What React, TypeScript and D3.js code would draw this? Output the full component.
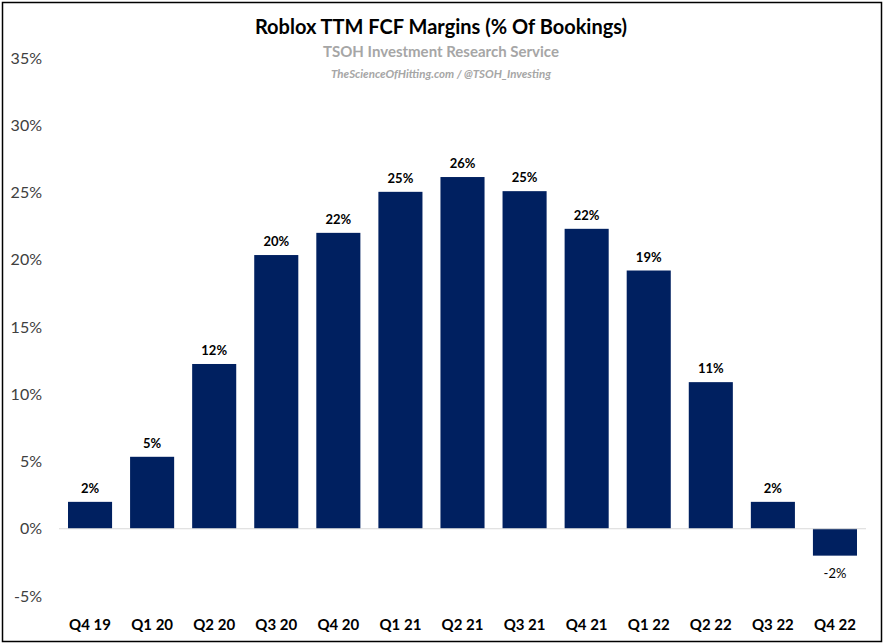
import React from "react";
import * as d3 from "d3";

const categories = ["Q4 19","Q1 20","Q2 20","Q3 20","Q4 20","Q1 21","Q2 21","Q3 21","Q4 21","Q1 22","Q2 22","Q3 22","Q4 22"];
const values = [2.0, 5.35, 12.25, 20.35, 22.0, 25.05, 26.15, 25.1, 22.3, 19.2, 10.9, 2.0, -2.0];
const labels = ["2%","5%","12%","20%","22%","25%","26%","25%","22%","19%","11%","2%","-2%"];
const yTicks = [-5, 0, 5, 10, 15, 20, 25, 30, 35];
const title = "Roblox TTM FCF Margins (% Of Bookings)";
const subtitle = "TSOH Investment Research Service";
const credit = "TheScienceOfHitting.com / @TSOH_Investing";

export default function App() {
  const W = 884, H = 644;
  const font = "Lato, 'Open Sans', sans-serif";
  const x = d3.scaleBand<string>().domain(categories).range([59, 866]).paddingInner(0.29).paddingOuter(0.145);
  const y = d3.scaleLinear().domain([-5, 35]).range([596, 58]);
  const navy = "#002060";
  return (
    <svg width={W} height={H} style={{ position: "absolute", left: 0, top: 0 }}>
      <rect x={0} y={0} width={W} height={H} fill="#fff" />
      <rect x={2.5} y={2.5} width={W - 5} height={H - 5} fill="none" stroke="#000" strokeWidth={1.5} />
      <text x={441} y={34} textAnchor="middle" fontFamily={font} fontWeight={700} fontSize={20} fill="#000">{title}</text>
      <text x={441} y={57} textAnchor="middle" fontFamily={font} fontWeight={700} fontSize={15} fill="#a6a6a6">{subtitle}</text>
      <text x={441} y={78} textAnchor="middle" fontFamily={font} fontWeight={700} fontStyle="italic" fontSize={11.5} fill="#a6a6a6">{credit}</text>
      {yTicks.map(t => (
        <text key={t} x={42} y={y(t)} dy="0.35em" textAnchor="end" fontFamily={font} fontSize={16} fill="#404040">{t}%</text>
      ))}
      {categories.map((c, i) => {
        const v = values[i];
        const y0 = y(Math.max(0, v));
        const h = Math.abs(y(v) - y(0));
        const cx = (x(c) as number) + x.bandwidth() / 2;
        return (
          <g key={c}>
            <rect x={x(c)} y={y0} width={x.bandwidth()} height={h} fill={navy} />
            <text x={cx} y={v >= 0 ? y(v) - 9 : y(v) + 22} textAnchor="middle" fontFamily={font} fontWeight={v >= 0 ? 700 : 400} fontSize={13} fill="#000">{labels[i]}</text>
            <text x={cx} y={630} textAnchor="middle" fontFamily={font} fontWeight={700} fontSize={15} fill="#000">{c}</text>
          </g>
        );
      })}
      <line x1={59} x2={866} y1={y(0)} y2={y(0)} stroke="#d9d9d9" strokeWidth={1} />
    </svg>
  );
}
